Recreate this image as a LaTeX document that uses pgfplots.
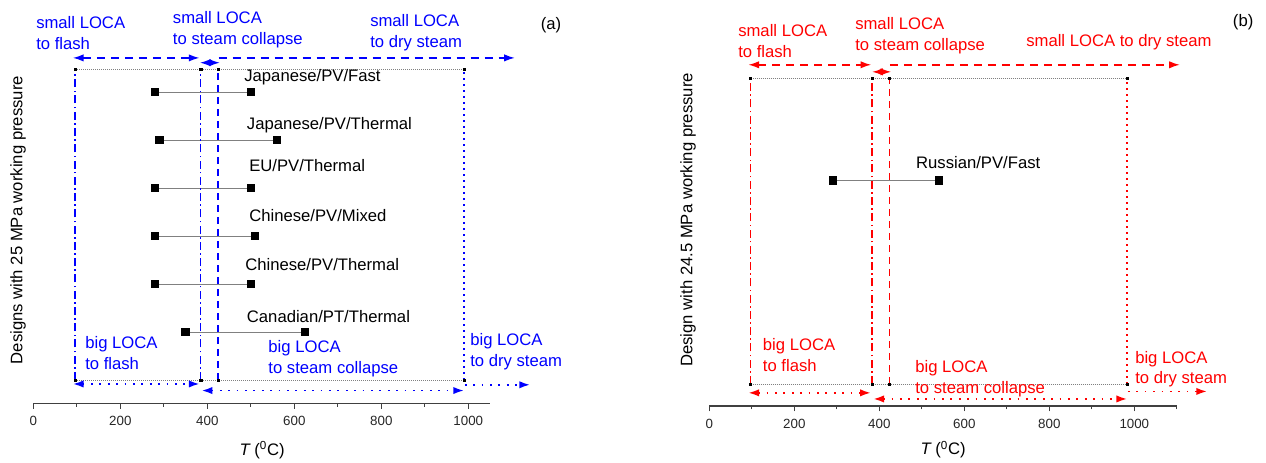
\documentclass[border=0pt]{standalone}
\usepackage{pgfplots}
\pgfplotsset{compat=1.18}
\usepackage{fontspec}
\setmainfont{Liberation Sans}
\usetikzlibrary{arrows.meta}
\definecolor{pblue}{RGB}{0,0,255}
\definecolor{pred}{RGB}{255,0,0}
\pgfplotsset{
  panel/.style={
    axis x line=bottom, axis y line=none,
    axis line style={-, black!75, line width=1.1pt},
    clip=false, anchor=south west,
    tick align=outside,
    major tick length=4pt, minor tick length=2.5pt,
    every tick/.style={black!75, line width=0.9pt},
    xtick={0,200,...,1000},
    /pgf/number format/assume math mode=true,
    /pgf/number format/1000 sep={},
    xticklabel style={font=\fontsize{10}{12}\selectfont, black!85, yshift=-2pt},
  },
  dash/.style={line width=1.1pt, dash pattern=on 6pt off 4.5pt},
  bigdot/.style={line width=1.3pt, dash pattern=on 1.3pt off 5pt},
  vdashdot/.style={line width=1pt, dash pattern=on 6pt off 2.5pt on 1.2pt off 2.5pt},
  vdash/.style={line width=1.15pt, dash pattern=on 5.5pt off 3.5pt},
  vdot/.style={line width=1.3pt, dash pattern=on 1.3pt off 3.2pt},
  rect/.style={gray, line width=0.5pt, densely dotted, mark=square*, mark size=0.8pt, mark options={solid, black}},
  datapt/.style={gray, line width=0.7pt, mark=square*, mark size=2.7pt, mark options={black, solid}},
}
\tikzset{tip2/.style={{Latex[length=8pt,width=5.5pt]}-{Latex[length=8pt,width=5.5pt]}},
         tip1/.style={-{Latex[length=8pt,width=5.5pt]}}}
\begin{document}
\begin{tikzpicture}[font=\fontsize{12.5}{15.5}\selectfont]
\path[use as bounding box] (0,0) rectangle (949.5pt,346.5pt);
% ---------------- panel (a)
\begin{axis}[panel, at={(24.975pt,43.875pt)},
  x=0.32625pt, y=36pt, xmin=0, xmax=1050, ymin=-0.49, ymax=6.5,
  minor xtick={100,300,...,900}]
% dotted rectangle
\addplot[rect] coordinates {(96,6.48) (385,6.48) (425,6.48) (990,6.48)};
\addplot[rect] coordinates {(96,0) (385,0) (425,0) (990,0)};
% design ranges
\addplot[datapt] coordinates {(280,6) (500,6)};
\addplot[datapt] coordinates {(290,5) (560,5)};
\addplot[datapt] coordinates {(280,4) (500,4)};
\addplot[datapt] coordinates {(280,3) (510,3)};
\addplot[datapt] coordinates {(280,2) (500,2)};
\addplot[datapt] coordinates {(350,1) (625,1)};
% vertical boundaries
\addplot[pblue, vdashdot] coordinates {(96,0) (96,6.48)};
\addplot[pblue, vdashdot] coordinates {(385,0) (385,6.48)};
\addplot[pblue, vdash] coordinates {(425,0) (425,6.48)};
\addplot[pblue, vdot] coordinates {(990,0) (990,6.48)};
% small LOCA arrows
\addplot[pblue, dash, tip2] coordinates {(91,6.71) (382,6.71)};
\addplot[pblue, line width=1.1pt, tip2] coordinates {(383,6.61) (429,6.61)};
\addplot[pblue, dash, tip1] coordinates {(426,6.71) (1107,6.71)};
% big LOCA arrows
\addplot[pblue, bigdot, tip2] coordinates {(91,-0.083) (382,-0.083)};
\addplot[pblue, bigdot, tip2] coordinates {(387,-0.22) (990,-0.22)};
\addplot[pblue, bigdot, tip1] coordinates {(992,-0.10) (1142,-0.10)};
% texts
\node[anchor=west, align=left, inner sep=0, pblue] at (axis cs:6.2,7.23) {small LOCA\\to flash};
\node[anchor=west, align=left, inner sep=0, pblue] at (axis cs:320.5,7.30) {small LOCA\\to steam collapse};
\node[anchor=west, align=left, inner sep=0, pblue] at (axis cs:774,7.23) {small LOCA\\to dry steam};
\node[anchor=west, align=left, inner sep=0, pblue] at (axis cs:118.9,0.5625) {big LOCA\\to flash};
\node[anchor=west, align=left, inner sep=0, pblue] at (axis cs:540,0.4375) {big LOCA\\to steam collapse};
\node[anchor=west, align=left, inner sep=0, pblue] at (axis cs:1004,0.594) {big LOCA\\to dry steam};
\node[anchor=west, inner sep=0] at (axis cs:484.6,6.31) {Japanese/PV/Fast};
\node[anchor=west, inner sep=0] at (axis cs:490.6,5.31) {Japanese/PV/Thermal};
\node[anchor=west, inner sep=0] at (axis cs:495.9,4.46) {EU/PV/Thermal};
\node[anchor=west, inner sep=0] at (axis cs:496,3.42) {Chinese/PV/Mixed};
\node[anchor=west, inner sep=0] at (axis cs:486.7,2.40) {Chinese/PV/Thermal};
\node[anchor=west, inner sep=0] at (axis cs:490.5,1.32) {Canadian/PT/Thermal};
\node[inner sep=0] at (axis cs:1190,7.40) {(a)};
\node[rotate=90, inner sep=0] at (axis cs:-35.2,3.33) {Designs with 25 MPa working pressure};
\node[inner sep=0] at (axis cs:526,-1.458) {{\itshape T} (\textsuperscript{0}C)};
\end{axis}
% ---------------- panel (b)
\begin{axis}[panel, at={(531.975pt,42pt)},
  x=0.31875pt, y=35.25pt, xmin=0, xmax=1100, ymin=-0.47, ymax=6.5,
  minor xtick={100,300,...,1100}]
\addplot[rect] coordinates {(97,6.50) (383,6.50) (424,6.50) (983,6.50)};
\addplot[rect] coordinates {(97,0) (383,0) (424,0) (983,0)};
\addplot[datapt] coordinates {(290,4.33) (540,4.33)};
\addplot[pred, vdashdot] coordinates {(97,0) (97,6.50)};
\addplot[pred, vdashdot] coordinates {(383,0) (383,6.50)};
\addplot[pred, vdash] coordinates {(424,0) (424,6.50)};
\addplot[pred, vdot] coordinates {(983,0) (983,6.50)};
\addplot[pred, dash, tip2] coordinates {(92,6.79) (381,6.79)};
\addplot[pred, line width=1.1pt, tip2] coordinates {(383,6.64) (428,6.64)};
\addplot[pred, dash, tip1] coordinates {(425,6.79) (1107,6.79)};
\addplot[pred, bigdot, tip2] coordinates {(92,-0.19) (380,-0.19)};
\addplot[pred, bigdot, tip2] coordinates {(386,-0.32) (983,-0.32)};
\addplot[pred, bigdot, tip1] coordinates {(985,-0.16) (1171,-0.16)};
\node[anchor=west, align=left, inner sep=0, pred] at (axis cs:67.5,7.30) {small LOCA\\to flash};
\node[anchor=west, align=left, inner sep=0, pred] at (axis cs:342.8,7.41) {small LOCA\\to steam collapse};
\node[anchor=west, inner sep=0, pred] at (axis cs:745.2,7.28) {small LOCA to dry steam};
\node[anchor=west, align=left, inner sep=0, pred] at (axis cs:125.6,0.617) {big LOCA\\to flash};
\node[anchor=west, align=left, inner sep=0, pred] at (axis cs:484,0.106) {big LOCA\\to steam collapse};
\node[anchor=west, align=left, inner sep=0, pred] at (axis cs:1001.6,0.31) {big LOCA\\to dry steam};
\node[anchor=west, inner sep=0] at (axis cs:486,4.70) {Russian/PV/Fast};
\node[inner sep=0] at (axis cs:1256,7.70) {(b)};
\node[rotate=90, inner sep=0] at (axis cs:-50,3.49) {Design with 24.5 MPa working pressure};
\node[inner sep=0] at (axis cs:550,-1.40) {{\itshape T} (\textsuperscript{0}C)};
\end{axis}
\end{tikzpicture}
\end{document}
